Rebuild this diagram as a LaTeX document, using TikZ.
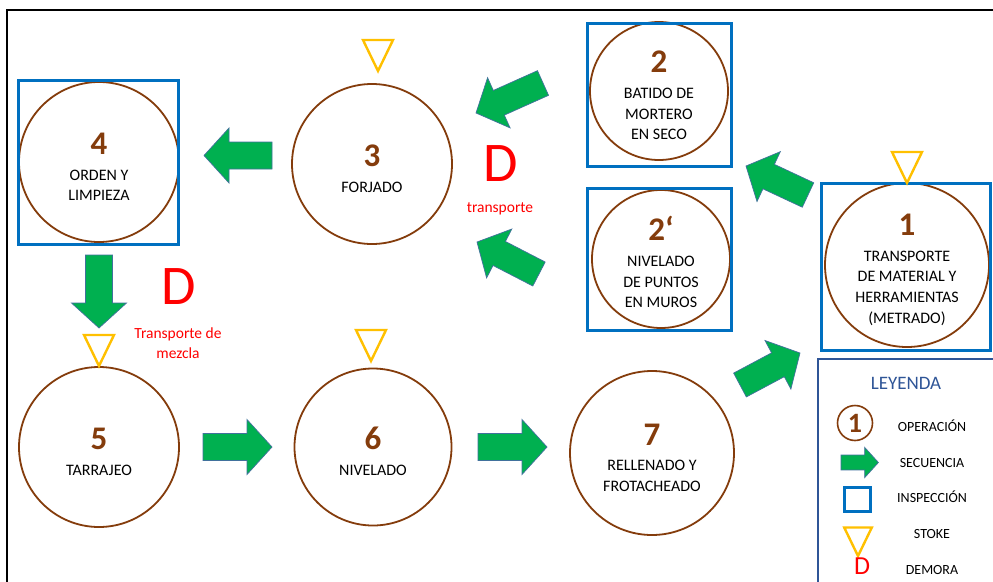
\documentclass[tikz,border=0pt]{standalone}
\usepackage{fontspec}
\setmainfont{Carlito}
\usetikzlibrary{calc}
\definecolor{opbrown}{HTML}{843C0C}
\definecolor{inspblue}{HTML}{0070C0}
\definecolor{seqgreen}{HTML}{00B050}
\definecolor{seqedge}{HTML}{41719C}
\definecolor{stokeyel}{HTML}{FFC000}
\definecolor{legblue}{HTML}{2F5597}
\tikzstyle{operacion}=[
        circle,
        draw=opbrown,
        line width=1.8pt,
        inner sep=0pt,
        align=center,
        font=\fontsize{16}{20.7}\selectfont
]
\tikzstyle{inspeccion}=[
        draw=inspblue,
        line width=2.8pt,
        inner sep=0pt
]
\tikzstyle{stokeline}=[
        draw=stokeyel,
        line width=2.4pt,
        line join=miter
]
\tikzstyle{secuencia}=[
        fill=seqgreen,
        draw=seqedge,
        line width=0.7pt,
        line join=miter
]
\tikzstyle{demora}=[
        text=red,
        inner sep=0pt,
        font=\fontsize{56}{56}\selectfont
]
\tikzstyle{demoranota}=[
        text=red,
        align=center,
        inner sep=0pt,
        font=\fontsize{15.5}{20}\selectfont
]
\tikzstyle{leyenda}=[
        anchor=base,
        inner sep=0pt,
        font=\fontsize{14}{14}\selectfont
]
\tikzset{
        pics/bloque/.style={code={
                \draw[secuencia] (0,-13.5) -- ({#1-25},-13.5) -- ({#1-25},-27.5) -- (#1,0)
                        -- ({#1-25},27.5) -- ({#1-25},13.5) -- (0,13.5) -- cycle;
        }},
        pics/stoke/.style={code={
                \draw[stokeline] (-15,-31) -- (15,-31) -- (0,0) -- cycle;
        }}
}
\newcommand\numop[1]{{\fontsize{33}{33}\selectfont\bfseries\color{opbrown}\rule{0pt}{31pt}#1}}
\newcommand\flecha[2]{%
        \path let \p1=($(#2)-(#1)$), \n1={atan2(\y1,\x1)}, \n2={veclen(\x1,\y1)} in
                pic[rotate=\n1] at (#1) {bloque=\n2};
}

\begin{document}
\begin{tikzpicture}[x=1pt,y=-1pt]
                    \useasboundingbox (0,0) rectangle (993,581);
                    \clip (0,0) rectangle (993,581);
                    \fill[white] (0,0) rectangle (993,581);
                    \draw[line width=2pt] (6.5,600) -- (6.5,9.5) -- (1000,9.5);

                    \node[operacion, minimum size=160pt] (c4) at (99,162) {\numop{4}\\[5pt] ORDEN Y\\ LIMPIEZA};
                    \node[operacion, minimum size=160pt] (c3) at (372,164) {\numop{3}\\[5pt] FORJADO};
                    \node[operacion, minimum size=138pt] (c2) at (659,91) {\numop{2}\\[5pt] BATIDO DE\\ MORTERO\\ EN SECO};
                    \node[operacion, minimum size=138pt] (c2p) at (661,259) {\numop{2‘}\\[5pt] NIVELADO\\ DE PUNTOS\\ EN MUROS};
                    \node[operacion, minimum size=164pt] (c1) at (907,265) {\numop{1}\\[5pt] TRANSPORTE\\ DE MATERIAL Y\\ HERRAMIENTAS\\ (METRADO)};
                    \node[operacion, minimum size=160pt] (c5) at (99,447) {\numop{5}\\[5pt] TARRAJEO};
                    \node[operacion, minimum size=157pt] (c6) at (373,447) {\numop{6}\\[5pt] NIVELADO};
                    \node[operacion, minimum size=164pt] (c7) at (652,453) {\numop{7}\\[5pt] RELLENADO Y\\ FROTACHEADO};

                    \node[inspeccion, minimum width=160pt, minimum height=164pt] (b4) at (98.5,162.5) {};
                    \node[inspeccion, minimum width=144pt, minimum height=143pt] (b2) at (659.5,95) {};
                    \node[inspeccion, minimum width=144pt, minimum height=142pt] (b2p) at (659.5,259.5) {};
                    \node[inspeccion, minimum width=169pt, minimum height=167pt] (b1) at (906,267) {};

                    \pic at (378,71) {stoke};
                    \pic at (907,183) {stoke};
                    \pic at (99,366) {stoke};
                    \pic at (371,361) {stoke};

                    \coordinate (t34) at (272,155.5);
                    \coordinate (h34) at (204,155.5);
                    \coordinate (t45) at (99,255);
                    \coordinate (h45) at (99,328);
                    \coordinate (t56) at (203,447);
                    \coordinate (h56) at (272,447);
                    \coordinate (t67) at (478,447);
                    \coordinate (h67) at (547,447);
                    \coordinate (t71) at (740,385);
                    \coordinate (h71) at (800,353);
                    \coordinate (t12) at (808,195);
                    \coordinate (h12) at (746,166);
                    \coordinate (t23) at (543,83);
                    \coordinate (h23) at (476,113);
                    \coordinate (t2p3) at (539,274);
                    \coordinate (h2p3) at (477,242);

                    \foreach \a/\b in {t34/h34,t45/h45,t56/h56,t67/h67,t71/h71,t12/h12,t23/h23,t2p3/h2p3} {
                        \flecha{\a}{\b}
                    }

                    \node[demora] (d3) at (501,163.5) {D};
                    \node[demoranota] (n3) at (500,209) {transporte};
                    \node[demora] (d5) at (179,287) {D};
                    \node[demoranota] (n5) at (178,343) {Transporte de\\ mezcla};

                    \draw[draw=legblue, line width=2.4pt] (818,359) rectangle (1000,600);
                    \node[text=legblue, font=\fontsize{19}{19}\selectfont] (ley) at (906,383) {LEYENDA};
                    \node[circle, draw=opbrown, line width=1.6pt, inner sep=0pt, minimum size=35pt,
                          font=\fontsize{28}{28}\selectfont\bfseries, text=opbrown] (lop) at (855,423) {1};
                    \pic[scale=0.55] at (841,462.5) {bloque=68};
                    \node[inspeccion, line width=2.6pt, minimum width=26pt, minimum height=24.5pt] (lin) at (857.5,499.5) {};
                    \pic[scale=0.92] at (858,556) {stoke};
                    \node[text=red, inner sep=0pt, font=\fontsize{26}{26}\selectfont] (lde) at (862,566) {D};

                    \node[leyenda] (t1) at (932,431) {OPERACIÓN};
                    \node[leyenda] (t2) at (932,467) {SECUENCIA};
                    \node[leyenda] (t3) at (932,502) {INSPECCIÓN};
                    \node[leyenda] (t4) at (932,538) {STOKE};
                    \node[leyenda] (t5) at (932,574) {DEMORA};
\end{tikzpicture}
\end{document}
